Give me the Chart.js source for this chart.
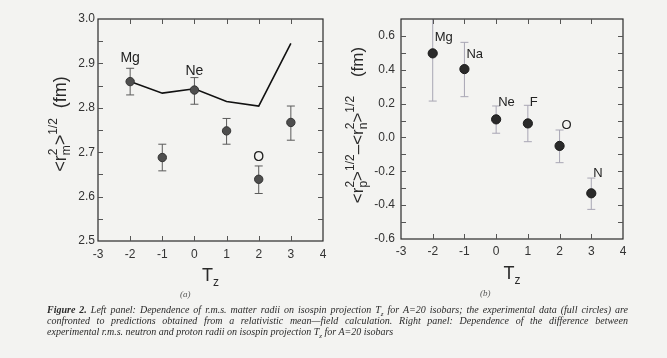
<!DOCTYPE html>
<html><head><meta charset="utf-8">
<script src="https://cdn.jsdelivr.net/npm/chart.js@4"></script>
<style>
html,body{margin:0;padding:0;background:#f3f3f1;width:667px;height:358px;overflow:hidden;position:relative;}
#c1{position:absolute;left:0;top:0;}
#c2{position:absolute;left:333px;top:0;}
.cap{position:absolute;left:47px;width:581px;font:italic 10px "Liberation Serif",serif;color:#2a2a2a;line-height:11px;height:11px;}
.j{text-align:justify;text-align-last:justify;}
.sub{position:absolute;font:italic 9px "Liberation Serif",serif;color:#555;}
</style></head><body>
<canvas id="c1" width="333" height="290"></canvas>
<canvas id="c2" width="334" height="290"></canvas>
<div class="sub" style="left:180px;top:289px">(a)</div>
<div class="sub" style="left:480px;top:288px">(b)</div>
<div class="cap j" style="top:304px"><b>Figure 2.</b> Left panel: Dependence of r.m.s. matter radii on isospin projection T<sub style="font-size:7px;line-height:0">z</sub> for A=20 isobars; the experimental data (full circles) are</div>
<div class="cap j" style="top:315px">confronted to predictions obtained from a relativistic mean—field calculation. Right panel: Dependence of the difference between</div>
<div class="cap" style="top:326px">experimental r.m.s. neutron and proton radii on isospin projection T<sub style="font-size:7px;line-height:0">z</sub> for A=20 isobars</div>
<script>
// ---------- data ----------
const leftTz = [-2, -1, 0, 1, 2, 3];
const matterRadius   = [2.859, 2.688, 2.840, 2.748, 2.639, 2.767];
const matterErrLow   = [2.829, 2.658, 2.808, 2.718, 2.607, 2.727];
const matterErrHigh  = [2.889, 2.718, 2.868, 2.776, 2.669, 2.804];
const rmfTz     = [-2, -1, 0, 1, 2, 3];
const rmfRadius = [2.859, 2.833, 2.843, 2.814, 2.804, 2.945];
const leftNames   = ['Mg', 'Ne', 'O'];
const leftNameTz  = [-2, 0, 2];
const leftNameVal = [2.912, 2.883, 2.689];

const rightTz = [-2, -1, 0, 1, 2, 3];
const radiusDiff  = [0.497, 0.404, 0.107, 0.083, -0.050, -0.330];
const diffErrLow  = [0.215, 0.241, 0.025, -0.025, -0.149, -0.425];
const diffErrHigh = [0.780, 0.562, 0.186, 0.190, 0.044, -0.240];
const rightNames   = ['Mg', 'Na', 'Ne', 'F', 'O', 'N'];
const rightNameTz  = [-2, -1, 0, 1, 2, 3];
const rightNameVal = [0.59, 0.49, 0.21, 0.21, 0.074, -0.21];

const xTickValues = [-3, -2, -1, 0, 1, 2, 3, 4];
const leftYTicks  = ['2.5', '2.6', '2.7', '2.8', '2.9', '3.0'];
const rightYTicks = ['-0.6', '-0.4', '-0.2', '0.0', '0.2', '0.4', '0.6'];

// ---------- helpers ----------
const SANS = '"Liberation Sans", Arial, sans-serif';

function drawRich(ctx, x, y, parts, rot) {
  ctx.save();
  ctx.translate(x, y);
  ctx.rotate(rot);
  ctx.textBaseline = 'alphabetic';
  ctx.textAlign = 'left';
  let total = 0;
  const widths = parts.map(p => {
    let w;
    ctx.font = p.s + 'px ' + SANS;
    if (p.stack) {
      w = Math.max(ctx.measureText(p.sub).width, ctx.measureText(p.sup).width);
    } else {
      w = ctx.measureText(p.t).width;
    }
    total += w;
    return w;
  });
  let cx = -total / 2;
  parts.forEach((p, i) => {
    ctx.font = p.s + 'px ' + SANS;
    if (p.stack) {
      ctx.fillText(p.sub, cx, p.subDy);
      ctx.fillText(p.sup, cx, p.supDy);
    } else {
      ctx.fillText(p.t, cx, p.dy || 0);
    }
    cx += widths[i];
  });
  ctx.restore();
}

const panelPlugin = {
  id: 'panel',
  beforeDatasetsDraw(chart, args, o) {
    const ctx = chart.ctx, xs = chart.scales.x, ys = chart.scales.y, a = chart.chartArea;
    ctx.save();
    ctx.beginPath();
    ctx.rect(a.left, a.top, a.right - a.left, a.bottom - a.top);
    ctx.clip();
    ctx.strokeStyle = o.errColor;
    ctx.lineWidth = 1;
    o.errX.forEach((xv, i) => {
      const px = xs.getPixelForValue(xv);
      const lo = ys.getPixelForValue(o.errLo[i]);
      const hi = ys.getPixelForValue(o.errHi[i]);
      ctx.beginPath();
      ctx.moveTo(px, lo); ctx.lineTo(px, hi);
      ctx.moveTo(px - 4, lo); ctx.lineTo(px + 4, lo);
      ctx.moveTo(px - 4, hi); ctx.lineTo(px + 4, hi);
      ctx.stroke();
    });
    ctx.restore();
  },
  afterDraw(chart, args, o) {
    const ctx = chart.ctx, xs = chart.scales.x, ys = chart.scales.y, a = chart.chartArea;
    ctx.save();
    ctx.strokeStyle = '#2a2a2a';
    ctx.lineWidth = 1.2;
    ctx.strokeRect(a.left, a.top, a.right - a.left, a.bottom - a.top);
    ctx.lineWidth = 1;
    ctx.strokeStyle = '#555';
    ctx.beginPath();
    for (let v = xs.min + 1; v < xs.max - 1e-9; v += 1) {
      const px = Math.round(xs.getPixelForValue(v)) + 0.5;
      ctx.moveTo(px, a.bottom); ctx.lineTo(px, a.bottom - 5);
      ctx.moveTo(px, a.top); ctx.lineTo(px, a.top + 5);
    }
    const n = Math.round((ys.max - ys.min) / o.minorStep);
    for (let k = 1; k < n; k++) {
      const v = ys.min + k * o.minorStep;
      const py = Math.round(ys.getPixelForValue(v)) + 0.5;
      ctx.moveTo(a.left, py); ctx.lineTo(a.left + 5, py);
      ctx.moveTo(a.right, py); ctx.lineTo(a.right - 5, py);
    }
    ctx.stroke();
    ctx.fillStyle = '#222';
    ctx.font = o.nameSize + 'px ' + SANS;
    ctx.textAlign = o.nameAlign;
    ctx.textBaseline = 'middle';
    o.names.forEach((t, i) => {
      const px = xs.getPixelForValue(o.nameX[i]) + o.nameShift;
      const py = ys.getPixelForValue(o.nameY[i]);
      ctx.fillText(t, px, py);
    });
    ctx.fillStyle = '#2a2a2a';
    drawRich(ctx, (a.left + a.right) / 2, a.bottom + o.tzOffset,
      [{t: 'T', s: 18}, {t: 'z', s: 12, dy: 5}], 0);
    drawRich(ctx, o.yTitleX, o.yTitleY, o.yTitle, -Math.PI / 2);
    ctx.restore();
  }
};

function makePanel(id, cfg) {
  return new Chart(document.getElementById(id), {
    type: 'scatter',
    data: { datasets: cfg.datasets },
    options: {
      responsive: false,
      animation: false,
      events: [],
      layout: { padding: cfg.padding },
      plugins: { legend: { display: false }, tooltip: { enabled: false }, panel: cfg.panel },
      scales: {
        x: {
          type: 'linear', min: -3, max: 4,
          afterBuildTicks: s => { s.ticks = xTickValues.map(v => ({ value: v })); },
          afterFit: s => { s.height = cfg.xHeight; },
          grid: { display: false, drawTicks: false },
          border: { display: false },
          ticks: { padding: cfg.xPad, color: '#333', font: { family: SANS, size: 12 },
                    callback: v => String(v) }
        },
        y: {
          type: 'linear', min: cfg.yMin, max: cfg.yMax,
          afterBuildTicks: s => { s.ticks = cfg.yTicks.map(v => ({ value: parseFloat(v) })); },
          afterFit: s => { s.width = cfg.yWidth; },
          grid: { display: false, drawTicks: false },
          border: { display: false },
          ticks: { padding: cfg.yPad, color: '#333', font: { family: SANS, size: 12 },
                    callback: (v, i) => cfg.yTicks[i] }
        }
      }
    },
    plugins: [panelPlugin]
  });
}

// ---------- left panel ----------
makePanel('c1', {
  padding: { top: 19, right: 10, left: 0, bottom: 0 },
  xHeight: 49, yWidth: 98, xPad: 6, yPad: 3,
  yMin: 2.5, yMax: 3.0, yTicks: leftYTicks,
  datasets: [
    { type: 'line', data: rmfTz.map((x, i) => ({ x, y: rmfRadius[i] })),
      borderColor: '#111', borderWidth: 1.6, pointRadius: 0, fill: false, tension: 0, order: 2 },
    { data: leftTz.map((x, i) => ({ x, y: matterRadius[i] })),
      backgroundColor: '#4e4e4e', borderColor: '#333', borderWidth: 1, pointRadius: 4.2, order: 1 }
  ],
  panel: {
    errX: leftTz, errLo: matterErrLow, errHi: matterErrHigh, errColor: '#5a5a5a',
    minorStep: 0.05,
    names: leftNames, nameX: leftNameTz, nameY: leftNameVal, nameShift: 0, nameAlign: 'center', nameSize: 14,
    tzOffset: 40,
    yTitleX: 66, yTitleY: 124,
    yTitle: [{t: '<r', s: 18}, {stack: true, sub: 'm', sup: '2', s: 12, subDy: 4, supDy: -9},
             {t: '>', s: 18}, {t: '1/2', s: 12, dy: -9}, {t: '  (fm)', s: 18}]
  }
});

// ---------- right panel ----------
makePanel('c2', {
  padding: { top: 19, right: 44, left: 0, bottom: 0 },
  xHeight: 51, yWidth: 68, xPad: 5, yPad: 6,
  yMin: -0.6, yMax: 0.7, yTicks: rightYTicks,
  datasets: [
    { data: rightTz.map((x, i) => ({ x, y: radiusDiff[i] })),
      backgroundColor: '#2a2a2a', borderColor: '#1a1a1a', borderWidth: 1, pointRadius: 4.6 }
  ],
  panel: {
    errX: rightTz, errLo: diffErrLow, errHi: diffErrHigh, errColor: '#a8a6b4',
    minorStep: 0.1,
    names: rightNames, nameX: rightNameTz, nameY: rightNameVal, nameShift: 2, nameAlign: 'left', nameSize: 13,
    tzOffset: 40,
    yTitleX: 30, yTitleY: 125,
    yTitle: [{t: '<r', s: 17}, {stack: true, sub: 'p', sup: '2', s: 12, subDy: 4, supDy: -9},
             {t: '>', s: 17}, {t: '1/2', s: 12, dy: -9}, {t: '\u2013<r', s: 17},
             {stack: true, sub: 'n', sup: '2', s: 12, subDy: 4, supDy: -9},
             {t: '>', s: 17}, {t: '1/2', s: 12, dy: -9}, {t: '    (fm)', s: 17}]
  }
});
</script>
</body></html>
